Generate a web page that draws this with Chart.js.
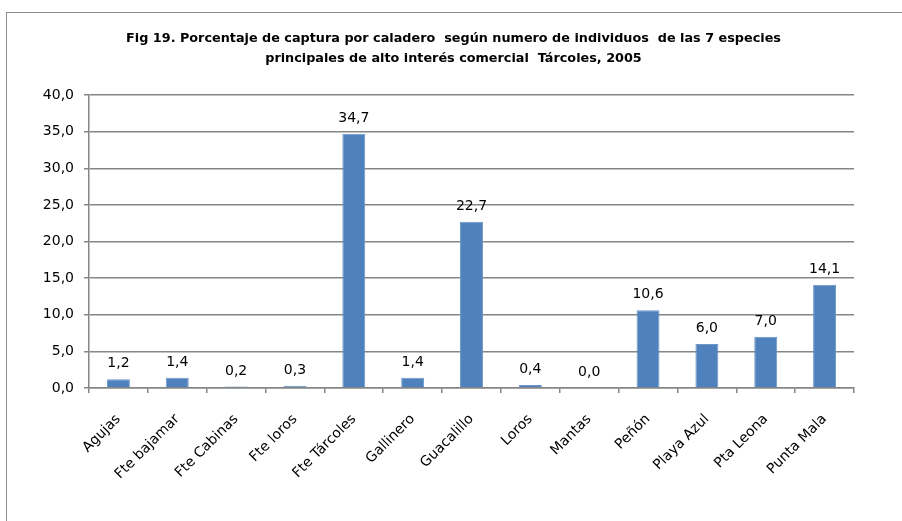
<!DOCTYPE html>
<html>
<head>
<meta charset="utf-8">
<script src="https://cdn.jsdelivr.net/npm/chart.js@4/dist/chart.umd.min.js"></script>
<style>
  html, body { margin: 0; padding: 0; background: #fff; overflow: hidden; }
  #wrap { position: relative; width: 902px; height: 521px; }
  #frame { position: absolute; left: 6px; top: 12px; width: 920px; height: 540px;
           border: 1.5px solid #8c8c8c; box-sizing: border-box; pointer-events: none; }
  canvas { position: absolute; left: 0; top: 0; }
</style>
</head>
<body>
<div id="wrap">
  <div id="frame"></div>
  <canvas id="c" width="902" height="521"></canvas>
</div>
<script>
const categories = ["Agujas", "Fte bajamar", "Fte Cabinas", "Fte loros", "Fte Tárcoles", "Gallinero", "Guacalillo", "Loros", "Mantas", "Peñón", "Playa Azul", "Pta Leona", "Punta Mala"];
const percentages = [1.2, 1.4, 0.2, 0.3, 34.7, 1.4, 22.7, 0.4, 0.0, 10.6, 6.0, 7.0, 14.1];
const yTicks = [0, 5, 10, 15, 20, 25, 30, 35, 40];
const titleLines = ["Fig 19. Porcentaje de captura por caladero  según numero de individuos  de las 7 especies", "principales de alto interés comercial  Tárcoles, 2005"];

const fmt = v => v.toFixed(1).replace('.', ',');
const tickFont = { family: "'DejaVu Sans', sans-serif", size: 14 };

const dataLabels = {
  id: 'dataLabels',
  afterDatasetsDraw(chart) {
    const ctx = chart.ctx;
    const meta = chart.getDatasetMeta(0);
    ctx.save();
    ctx.font = "14px 'DejaVu Sans', sans-serif";
    ctx.fillStyle = '#000';
    ctx.textAlign = 'center';
    ctx.textBaseline = 'alphabetic';
    meta.data.forEach((bar, i) => {
      ctx.fillText(fmt(percentages[i]), bar.x, bar.y - 12);
    });
    ctx.restore();
  }
};

// center the title across the whole frame rather than the padded layout box
const titleSpan = {
  id: 'titleSpan',
  afterLayout(chart) {
    const t = chart.titleBlock;
    if (t) { t.left = 5; t.right = chart.width; t.width = chart.width - 5; }
  }
};

new Chart(document.getElementById('c'), {
  type: 'bar',
  data: {
    labels: categories,
    datasets: [{
      data: percentages,
      backgroundColor: '#4F81BD',
      borderColor: '#6E97C8',
      borderWidth: 1,
      barPercentage: 0.39,
      categoryPercentage: 1
    }]
  },
  options: {
    responsive: false,
    animation: false,
    devicePixelRatio: 1,
    layout: { padding: { left: 0, right: 48, top: 0, bottom: 0 } },
    plugins: {
      legend: { display: false },
      tooltip: { enabled: false },
      title: {
        display: true,
        text: titleLines,
        color: '#000',
        font: { family: "'DejaVu Sans', sans-serif", size: 12.8, weight: 'bold', lineHeight: 20 / 12.8 },
        padding: { top: 29, bottom: 26 }
      }
    },
    scales: {
      x: {
        offset: true,
        grid: { display: true, drawOnChartArea: false, drawTicks: true, tickLength: 5, offset: true, color: '#868686', lineWidth: 1.5 },
        border: { display: true, color: '#868686', width: 1.5 },
        ticks: { color: '#000', font: tickFont, minRotation: 45, maxRotation: 45, padding: 18, autoSkip: false },
        afterFit(scale) { scale.height = 133; }
      },
      y: {
        min: 0, max: 40,
        afterBuildTicks(scale) { scale.ticks = yTicks.map(v => ({ value: v })); },
        grid: { color: '#868686', lineWidth: 1.5, drawTicks: true, tickLength: 5 },
        border: { display: true, color: '#868686', width: 1.5 },
        ticks: { color: '#000', font: tickFont, padding: 10, callback: v => fmt(v) },
        afterFit(scale) { scale.width = 89; }
      }
    }
  },
  plugins: [dataLabels, titleSpan]
});
</script>
</body>
</html>
